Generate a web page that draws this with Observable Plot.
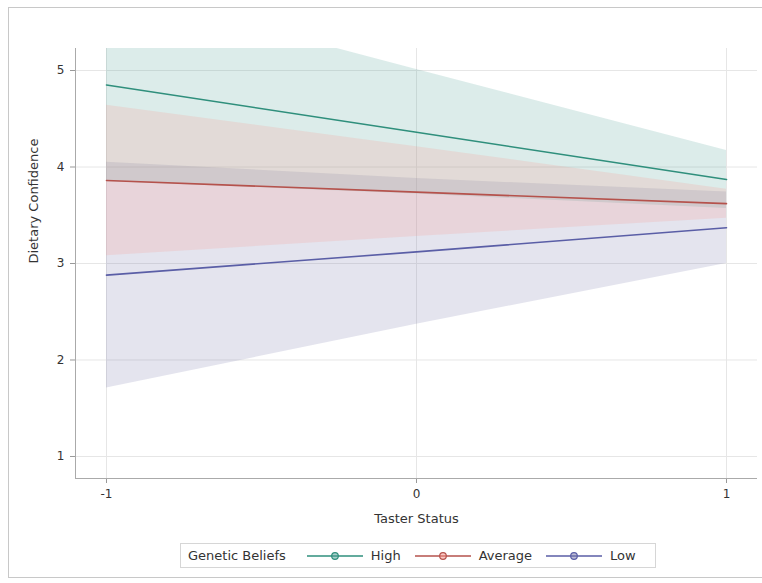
<!DOCTYPE html>
<html>
<head>
<meta charset="utf-8">
<script src="https://cdn.jsdelivr.net/npm/d3@7"></script>
<script src="https://cdn.jsdelivr.net/npm/@observablehq/plot@0.6"></script>
<style>
  body { margin: 0; background: #fff; font-family: "DejaVu Sans", Verdana, sans-serif; }
  #wrap { position: relative; width: 762px; height: 583px; overflow: hidden; }
  #frame { position: absolute; left: 8px; top: 7px; width: 760px; height: 571px; border: 1px solid #c8c8c8; box-sizing: border-box; pointer-events: none; }
  #legend { position: absolute; left: 180px; top: 543px; width: 476px; height: 25px; border: 1px solid #d6d6d6; box-sizing: border-box;
            display: flex; align-items: center; font-size: 13px; color: #333; }
  #legend .title { margin-left: 7px; margin-right: 20px; }
  #legend .item { display: flex; align-items: center; margin-right: 13px; }
  #legend svg { margin-right: 7px; }
</style>
</head>
<body>
<div id="wrap">
  <div id="chart"></div>
  <div id="frame"></div>
  <div id="legend"></div>
</div>
<script>
const tasterStatus = [-1, 0, 1];
const groups = ["High", "Average", "Low"];
const meanHigh = [4.85, 4.36, 3.87];
const lowerHigh = [3.85, 3.72, 3.57];
const upperHigh = [5.86, 5.01, 4.17];
const meanAverage = [3.86, 3.74, 3.62];
const lowerAverage = [3.08, 3.28, 3.47];
const upperAverage = [4.64, 4.21, 3.77];
const meanLow = [2.88, 3.12, 3.37];
const lowerLow = [1.71, 2.37, 3.00];
const upperLow = [4.05, 3.88, 3.74];
const yTicks = [1, 2, 3, 4, 5];
const xTicks = [-1, 0, 1];

const lineColors = {High: "#2f8f7c", Average: "#b5524c", Low: "#5a5ea6"};
const fillColors = {High: "rgb(80,160,150)", Average: "rgb(248,148,138)", Low: "rgb(120,120,170)"};
const bandOrder = ["Low", "High", "Average"];

const series = {
  High: [meanHigh, lowerHigh, upperHigh],
  Average: [meanAverage, lowerAverage, upperAverage],
  Low: [meanLow, lowerLow, upperLow]
};
const rowsFor = g => {
  const [m, lo, hi] = series[g];
  return tasterStatus.map((x, i) => ({group: g, x, mean: m[i], lower: lo[i], upper: hi[i]}));
};
const fmtX = d => d < 0 ? "-" + Math.abs(d) : String(d);

const plot = Plot.plot({
  width: 762,
  height: 535,
  marginLeft: 75,
  marginRight: 5,
  marginTop: 48,
  marginBottom: 57,
  style: {fontFamily: "DejaVu Sans, Verdana, sans-serif", fontSize: "12px", color: "#333", background: "transparent"},
  x: {domain: [-1.1, 1.1], label: null},
  y: {domain: [0.772, 5.228], label: null},
  marks: [
    Plot.gridX(xTicks, {stroke: "#e6e6e6", strokeOpacity: 1}),
    Plot.gridY(yTicks, {stroke: "#e6e6e6", strokeOpacity: 1}),
    ...bandOrder.map(g => Plot.areaY(rowsFor(g), {x: "x", y1: "lower", y2: "upper", fill: fillColors[g], fillOpacity: 0.2, clip: true})),
    ...groups.map(g => Plot.line(rowsFor(g), {x: "x", y: "mean", stroke: lineColors[g], strokeWidth: 1.6, clip: true})),
    Plot.axisX(xTicks, {tickSize: 5, tickPadding: 6, stroke: "#999", fill: "#333", label: null, tickFormat: fmtX, fontSize: 12}),
    Plot.axisY(yTicks, {tickSize: 5, tickPadding: 6, stroke: "#999", fill: "#333", label: null, tickFormat: d => String(d), fontSize: 12}),
    Plot.ruleX([-1.1], {stroke: "#aaa"}),
    Plot.ruleY([0.772], {stroke: "#aaa"}),
    Plot.text(["Taster Status"], {frameAnchor: "bottom", dy: 44, fontSize: 13, fill: "#333"}),
    Plot.text(["Dietary Confidence"], {frameAnchor: "left", dx: -42, rotate: -90, fontSize: 13, fill: "#333"})
  ]
});
plot.style.position = "absolute";
plot.style.left = "0px";
plot.style.top = "0px";
document.getElementById("chart").appendChild(plot);

const legend = document.getElementById("legend");
const t = document.createElement("span");
t.className = "title";
t.textContent = "Genetic Beliefs";
legend.appendChild(t);
for (const g of groups) {
  const item = document.createElement("span");
  item.className = "item";
  const c = lineColors[g];
  item.innerHTML = `<svg width="58" height="12"><line x1="1" y1="6" x2="57" y2="6" stroke="${c}" stroke-width="1.5"/><circle cx="29" cy="6" r="3.3" fill="${fillColors[g]}" fill-opacity="0.5" stroke="${c}" stroke-width="1.2"/></svg><span>${g}</span>`;
  legend.appendChild(item);
}
</script>
</body>
</html>
